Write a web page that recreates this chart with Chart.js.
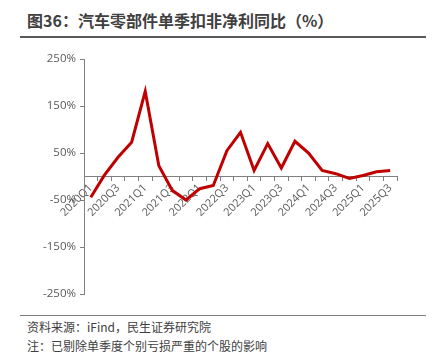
<!DOCTYPE html>
<html>
<head>
<meta charset="utf-8">
<script src="https://cdn.jsdelivr.net/npm/chart.js@4/dist/chart.umd.min.js"></script>
<style>
  body { margin: 0; background: #fff; width: 439px; height: 360px; position: relative; overflow: hidden; }
  #title { position: absolute; left: 27px; top: 8px; font: bold 16px "Noto Sans CJK SC", sans-serif; color: #404040; white-space: nowrap; }
  #topline { position: absolute; left: 20px; top: 36px; width: 406px; height: 2px; background: #595959; }
  #bottomline { position: absolute; left: 20px; top: 315px; width: 406px; height: 1px; background: #7f7f7f; }
  .note { position: absolute; left: 27px; font: 12px "Noto Sans CJK SC", sans-serif; color: #404040; white-space: nowrap; }
  #wrap { position: absolute; left: 0; top: 40px; width: 439px; height: 265px; }
</style>
</head>
<body>
<div id="title">图36：汽车零部件单季扣非净利同比（%）</div>
<div id="topline"></div>
<div id="wrap"><canvas id="c"></canvas></div>
<div id="bottomline"></div>
<div class="note" style="top:318px">资料来源：iFind，民生证券研究院</div>
<div class="note" style="top:337px">注：已剔除单季度个别亏损严重的个股的影响</div>
<script>
var quarters = ['2020Q1','2020Q2','2020Q3','2020Q4','2021Q1','2021Q2','2021Q3','2021Q4',
                '2022Q1','2022Q2','2022Q3','2022Q4','2023Q1','2023Q2','2023Q3','2023Q4',
                '2024Q1','2024Q2','2024Q3','2024Q4','2025Q1','2025Q2','2025Q3'];
var growth = [-44, 3, 41, 73, 181, 23, -30, -50, -26, -19, 55, 94, 13, 70, 18, 75,
              50, 13, 6, -4, 2, 10, 13];
var y_ticks = [-250, -150, -50, 50, 150, 250];

var axis_color = '#808080';
var text_color = '#595959';

new Chart(document.getElementById('c').getContext('2d'), {
    type: 'line',
    data: {
        labels: quarters,
        datasets: [{
            data: growth,
            borderColor: '#C00000',
            borderWidth: 3,
            pointRadius: 0,
            tension: 0,
            fill: false
        }]
    },
    options: {
        responsive: true,
        maintainAspectRatio: false,
        animation: false,
        layout: { padding: { top: 19, right: 42, bottom: 11, left: 0 } },
        plugins: { legend: { display: false }, tooltip: { enabled: false } },
        scales: {
            x: {
                position: { y: 0 },
                offset: true,
                grid: { offset: true, drawOnChartArea: false, drawTicks: true, tickLength: 4, color: axis_color },
                border: { display: true, color: axis_color, width: 1 },
                ticks: {
                    autoSkip: false,
                    minRotation: 45,
                    maxRotation: 45,
                    padding: 1,
                    color: text_color,
                    font: { family: 'Open Sans', size: 11 },
                    callback: function (v, i) { return i % 2 === 0 ? quarters[i] : ''; }
                },
                afterFit: function (s) { s.height = 0; }
            },
            y: {
                min: -250,
                max: 250,
                afterBuildTicks: function (s) { s.ticks = y_ticks.map(function (v) { return { value: v }; }); },
                grid: { drawOnChartArea: false, drawTicks: true, tickLength: 4, color: axis_color },
                border: { display: true, color: axis_color, width: 1 },
                ticks: {
                    color: text_color,
                    padding: 4,
                    font: { family: 'Open Sans', size: 11.5 },
                    callback: function (v) { return v + '%'; }
                },
                afterFit: function (s) { s.width = 84; }
            }
        }
    }
});
</script>
</body>
</html>
